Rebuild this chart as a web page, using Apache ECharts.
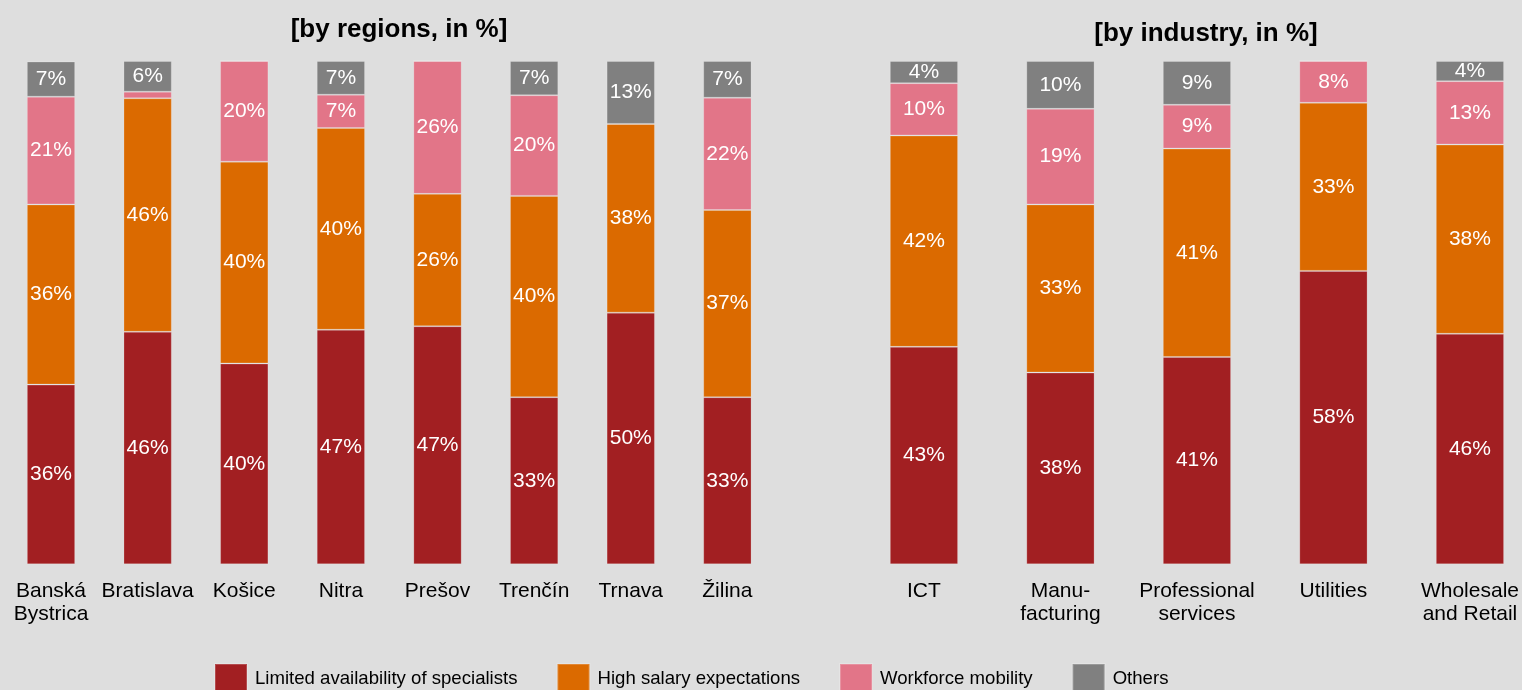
<!DOCTYPE html>
<html>
<head>
<meta charset="utf-8">
<script src="https://cdn.jsdelivr.net/npm/echarts@6/dist/echarts.min.js"></script>
<style>
  html, body { margin: 0; padding: 0; background: #dedede; }
  #chart { width: 1522px; height: 690px; }
</style>
</head>
<body>
<div id="chart"></div>
<script>
// categories
const regions = ['Banská\nBystrica', 'Bratislava', 'Košice', 'Nitra', 'Prešov', 'Trenčín', 'Trnava', 'Žilina'];
const industries = ['ICT', 'Manu-\nfacturing', 'Professional\nservices', 'Utilities', 'Wholesale\nand Retail'];

const seriesNames = ['Limited availability of specialists', 'High salary expectations', 'Workforce mobility', 'Others'];
const colors = ['#a21f22', '#db6a00', '#e27588', '#808080'];

// by regions, in %
const regSpecialists = [35.7, 46.2, 39.9, 46.6, 47.3, 33.2, 50.0, 33.2];
const regSalary      = [35.8, 46.4, 40.1, 40.1, 26.3, 40.0, 37.5, 37.2];
const regMobility    = [21.4, 1.3, 20.0, 6.6, 26.4, 20.0, 0, 22.3];
const regOthers      = [7.0, 6.1, 0, 6.7, 0, 6.8, 12.5, 7.3];

// by industry, in %
const indSpecialists = [43.2, 38.1, 41.2, 58.3, 45.8];
const indSalary      = [42.0, 33.4, 41.4, 33.4, 37.6];
const indMobility    = [10.4, 19.0, 8.7, 8.3, 12.6];
const indOthers      = [4.4, 9.5, 8.7, 0, 4.0];

const font = 'Liberation Sans, Arial, sans-serif';

function makeSeries(name, data, color, idx, stack) {
	return {
		name: name,
		type: 'bar',
		stack: stack,
		xAxisIndex: idx,
		yAxisIndex: idx,
		barWidth: '50%',
		data: data,
		itemStyle: { color: color, borderColor: 'rgba(255,255,255,0.2)', borderWidth: 1 },
		label: {
			show: true,
			position: 'inside',
			color: '#fff',
			fontSize: 21,
			fontFamily: font,
			formatter: function (p) { return p.value < 3 ? '' : Math.round(p.value) + '%'; }
		}
	};
};

const regData = [regSpecialists, regSalary, regMobility, regOthers];
const indData = [indSpecialists, indSalary, indMobility, indOthers];

let series = [];
for (let i = 0; i < 4; i++) {
	series.push(makeSeries(seriesNames[i], regData[i], colors[i], 0, 'reg'));
};
for (let i = 0; i < 4; i++) {
	series.push(makeSeries(seriesNames[i], indData[i], colors[i], 1, 'ind'));
};

function makeXAxis(idx, cats) {
	return {
		type: 'category',
		gridIndex: idx,
		data: cats,
		axisLine: { show: false },
		axisTick: { show: false },
		axisLabel: { color: '#000', fontSize: 21, fontFamily: font, lineHeight: 23, margin: 15, interval: 0 }
	};
};

function makeYAxis(idx) {
	return { type: 'value', gridIndex: idx, min: 0, max: 100, show: false, splitLine: { show: false } };
};

let chart = echarts.init(document.getElementById('chart'));
chart.setOption({
	backgroundColor: '#dedede',
	animation: false,
	color: colors,
	title: [
		{ text: '[by regions, in %]', left: 394, top: 12, textAlign: 'center',
		  textStyle: { fontSize: 26, fontWeight: 'bold', color: '#000', fontFamily: font } },
		{ text: '[by industry, in %]', left: 1201, top: 16, textAlign: 'center',
		  textStyle: { fontSize: 26, fontWeight: 'bold', color: '#000', fontFamily: font } }
	],
	legend: {
		data: seriesNames,
		left: 214,
		top: 663,
		padding: 0,
		icon: 'rect',
		itemWidth: 32,
		itemHeight: 30,
		itemGap: 39,
		textStyle: { fontSize: 18.6, color: '#000', fontFamily: font, padding: [0, 0, 0, 3] }
	},
	grid: [
		{ left: 2.7, top: 61, width: 773, height: 503.3, outerBoundsMode: 'none' },
		{ left: 855.7, top: 61, width: 682.5, height: 503.3, outerBoundsMode: 'none' }
	],
	xAxis: [makeXAxis(0, regions), makeXAxis(1, industries)],
	yAxis: [makeYAxis(0), makeYAxis(1)],
	series: series
});
</script>
</body>
</html>
